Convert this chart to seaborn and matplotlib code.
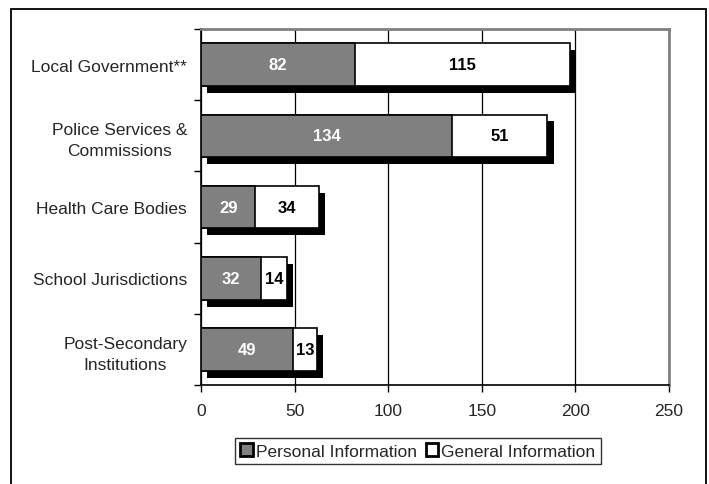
import matplotlib
matplotlib.use("Agg")
import matplotlib.pyplot as plt
import matplotlib.patheffects as pe
from matplotlib.patches import Rectangle, Patch
import seaborn as sns
import pandas as pd

categories = ["Local Government**", "Police Services &\nCommissions", "Health Care Bodies",
              "School Jurisdictions", "Post-Secondary\nInstitutions"]
personal = [82, 134, 29, 32, 49]
general = [115, 51, 34, 14, 13]

df = pd.DataFrame({"category": categories, "personal": personal, "general": general})
df["total"] = df["personal"] + df["general"]

sns.set_theme(style="white")
plt.rcParams["font.family"] = ["Liberation Sans", "DejaVu Sans"]

fig = plt.figure(figsize=(7.09, 4.85), dpi=100)
ax = fig.add_axes([0.2835, 0.204, 0.6601, 0.734])

shadow = [pe.SimplePatchShadow(offset=(4.5, -5), shadow_rgbFace="black", alpha=1.0), pe.Normal()]

# total bar first (white), then personal on top (grey)
sns.barplot(data=df, x="total", y="category", orient="h", color="white", width=0.6,
            saturation=1, edgecolor="black", linewidth=1.2, ax=ax)
sns.barplot(data=df, x="personal", y="category", orient="h", color="#808080", width=0.6,
            saturation=1, edgecolor="black", linewidth=1.2, ax=ax)

n = len(categories)
for p in ax.patches[:n]:
    p.set_path_effects(shadow)
    p.set_zorder(2)
for p in ax.patches[n:]:
    p.set_zorder(3)

for i, (pv, gv) in enumerate(zip(personal, general)):
    ax.text(pv / 2, i, str(pv), ha="center", va="center", color="white",
            fontsize=12, fontweight="bold", zorder=5)
    ax.text(pv + gv / 2, i, str(gv), ha="center", va="center", color="black",
            fontsize=12, fontweight="bold", zorder=5)

ax.set_xlim(0, 250)
ax.set_ylim(n - 0.5, -0.5)
ax.set_xticks([0, 50, 100, 150, 200, 250])
ax.xaxis.grid(True, color="black", linewidth=0.9)
ax.set_axisbelow(True)
ax.set_xlabel("")
ax.set_ylabel("")

# category separator ticks on the y axis
ax.set_yticks(range(n))
ax.set_yticklabels(categories, fontsize=12.5, linespacing=1.5, multialignment="center")
ax.set_yticks([i - 0.5 for i in range(n + 1)], minor=True)
ax.tick_params(axis="y", which="major", length=0, pad=10)
ax.tick_params(axis="y", which="minor", length=5, width=1, color="black", direction="out", left=True)
ax.tick_params(axis="x", length=5, width=1, color="black", direction="out", bottom=True,
               labelsize=12.5, pad=8)

for side in ["left", "bottom"]:
    ax.spines[side].set_color("black")
    ax.spines[side].set_linewidth(1.2)
for side in ["top", "right"]:
    ax.spines[side].set_color("#808080")
    ax.spines[side].set_linewidth(2)

handles = [Patch(facecolor="#808080", edgecolor="black", linewidth=2, label="Personal Information"),
           Patch(facecolor="white", edgecolor="black", linewidth=2, label="General Information")]
leg = fig.legend(handles=handles, loc="center", bbox_to_anchor=(418 / 709, 1 - 452 / 485), ncol=2,
                 fontsize=12.5, frameon=True, fancybox=False, edgecolor="black", handlelength=0.7,
                 handleheight=0.7, handletextpad=0.2, columnspacing=0.5, borderpad=0.3,
                 borderaxespad=0)
leg.get_frame().set_linewidth(1)

fig.patches.append(Rectangle((11 / 709, -0.01), (706 - 11) / 709, 1 - 10 / 485 + 0.01,
                             transform=fig.transFigure, fill=False, edgecolor="black",
                             linewidth=1.3))

fig.savefig("out.png", dpi=100)
